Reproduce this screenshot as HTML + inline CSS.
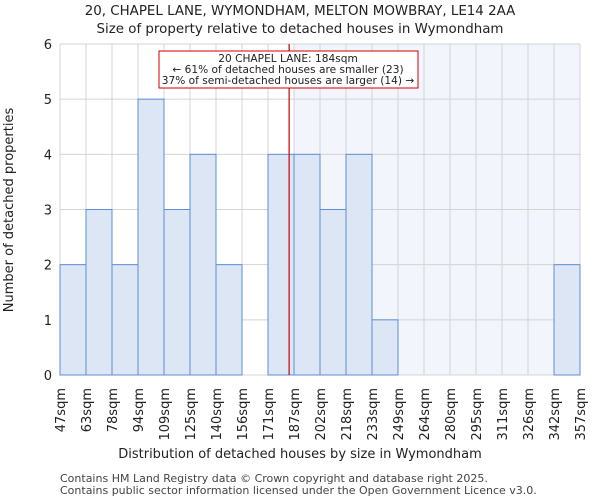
<!DOCTYPE html>
<html><head><meta charset="utf-8"><style>
body{margin:0;background:#fff;font-family:"DejaVu Sans","Liberation Sans",sans-serif;}
</style></head><body>
<svg width="600" height="500" xmlns="http://www.w3.org/2000/svg" font-family="DejaVu Sans, Liberation Sans, sans-serif">
<text x="300" y="15" text-anchor="middle" font-size="13.4" fill="#222">20, CHAPEL LANE, WYMONDHAM, MELTON MOWBRAY, LE14 2AA</text>
<text x="300" y="33" text-anchor="middle" font-size="13.4" fill="#222">Size of property relative to detached houses in Wymondham</text>
<g id="plot"></g>
<text x="300" y="458" text-anchor="middle" font-size="13" fill="#222">Distribution of detached houses by size in Wymondham</text>
<text transform="translate(13,210) rotate(-90)" text-anchor="middle" font-size="13" fill="#222">Number of detached properties</text>
<text x="60" y="482" font-size="11" fill="#444">Contains HM Land Registry data © Crown copyright and database right 2025.</text>
<text x="60" y="494" font-size="11" fill="#444">Contains public sector information licensed under the Open Government Licence v3.0.</text>
</svg>
<script>
const binLabels=["47sqm","63sqm","78sqm","94sqm","109sqm","125sqm","140sqm","156sqm","171sqm","187sqm","202sqm","218sqm","233sqm","249sqm","264sqm","280sqm","295sqm","311sqm","326sqm","342sqm","357sqm"];
const binEdges=[47,63,78,94,109,125,140,156,171,187,202,218,233,249,264,280,295,311,326,342,357];
const counts=[2,3,2,5,3,4,2,0,4,4,3,4,1,0,0,0,0,0,0,2];
const yTicks=[0,1,2,3,4,5,6];
const propertySize=184;
const NS="http://www.w3.org/2000/svg";
const X0=60,X1=580,Y0=375,Y1=44;
const n=counts.length,bw=(X1-X0)/n;
const xi=i=>X0+i*bw;
const y=v=>Y0-(Y0-Y1)*v/6;
function xv(v){for(let i=0;i<binEdges.length-1;i++){if(v<=binEdges[i+1])return xi(i)+bw*(v-binEdges[i])/(binEdges[i+1]-binEdges[i]);}return X1;}
const g=document.getElementById('plot');
function mk(t,a){const e=document.createElementNS(NS,t);for(const k in a)e.setAttribute(k,a[k]);g.appendChild(e);return e;}
let pi=0;while(pi<binEdges.length-1&&binEdges[pi]<propertySize)pi++;
const sh=mk('rect',{x:xi(pi),y:Y1,width:X1-xi(pi),height:Y0-Y1,fill:'#f2f5fc'});


for(const t of yTicks){const l=mk('line',{x1:X0,x2:X1,y1:y(t),y2:y(t),stroke:'#d4d4d4'});


const tx=mk('text',{x:X0-8,y:y(t)+5,'text-anchor':'end','font-size':13,fill:'#222'});tx.textContent=t;

}
for(let i=0;i<=n;i++){const l=mk('line',{x1:xi(i),x2:xi(i),y1:Y1,y2:Y0,stroke:'#d4d4d4'});

}
counts.forEach((c,i)=>{if(c<=0)return;const r=mk('rect',{x:xi(i),y:y(c),width:bw,height:Y0-y(c),fill:'#dce6f4',stroke:'#5b8fd6','stroke-width':1});

});
binLabels.forEach((s,i)=>{const t=mk('text',{transform:`translate(${xi(i)+5},388) rotate(-90)`,'text-anchor':'end','font-size':13,fill:'#222'});t.textContent=s;

});
const rx=xv(propertySize);
const rl=mk('line',{x1:rx,x2:rx,y1:Y1,y2:Y0,stroke:'#cc0000','stroke-width':1.2});


const box=mk('rect',{x:159,y:51,width:259,height:37,fill:'#fff',stroke:'#cc0000'});


["20 CHAPEL LANE: 184sqm","← 61% of detached houses are smaller (23)","37% of semi-detached houses are larger (14) →"].forEach((s,k)=>{const t=mk('text',{x:288,y:62+k*11,'text-anchor':'middle','font-size':10.6,fill:'#222'});t.textContent=s;

});
</script>
</body></html>
